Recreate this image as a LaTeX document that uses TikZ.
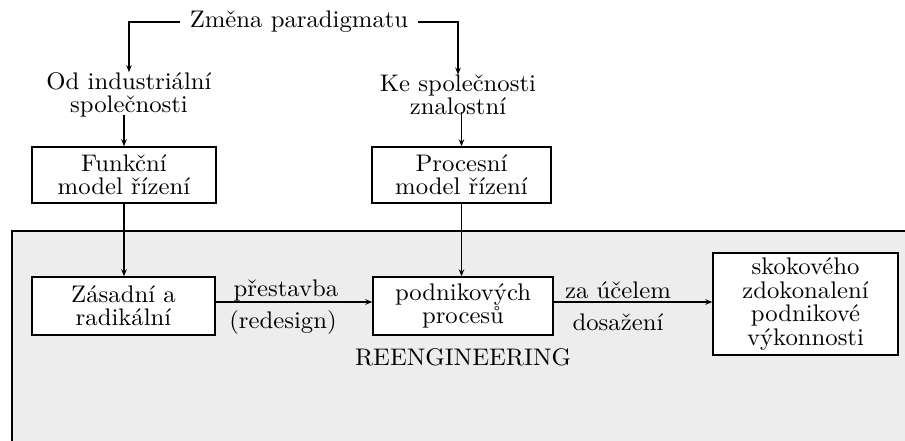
\documentclass[tikz,border=0pt]{standalone}
\usepackage{fontspec}
\setmainfont{lmroman10-regular.otf}[FakeStretch=1.03]
\usetikzlibrary{arrows.meta}
\begin{document}
\begin{tikzpicture}[x=1pt,y=-1pt,
  every node/.style={font=\fontsize{24}{23.5}\selectfont, align=center, inner sep=0pt},
  box/.style={draw, line width=1.4pt, fill=white},
  link/.style={line width=1.2pt},
  arr/.style={link, -{Stealth[length=7pt,width=5.5pt]}},
  frame/.style={draw, line width=1.4pt, fill=black!7},
]
\clip (0,0) rectangle (905,441);
\fill[white] (0,0) rectangle (905,441);

% reengineering area
\draw[frame] (12,231) rectangle (940,480);

% paradigm shift
\node[inner xsep=10pt] (zmena) at (299,22) {Změna paradigmatu};
\node (od) at (129,95) {Od industriální\\společnosti};
\node (ke) at (458,95) {Ke společnosti\\znalostní};

% management models
\node[box, minimum width=184pt, minimum height=56pt] (funk) at (124,175) {Funkční\\model řízení};
\node[box, minimum width=179pt, minimum height=56pt] (proc) at (461.5,175) {Procesní\\model řízení};

% reengineering chain
\node[box, minimum width=183pt, minimum height=58pt] (zas) at (123.5,306) {Zásadní a\\radikální};
\node[box, minimum width=180pt, minimum height=58pt] (podn) at (463,306) {podnikových\\procesů};
\node[box, minimum width=185pt, minimum height=102pt] (skok) at (805.5,304) {skokového\\zdokonalení\\podnikové\\výkonnosti};

\node (pre) at (286,290) {přestavba};
\node (red) at (283,322) {(redesign)};
\node (zau) at (618,290) {za účelem};
\node (dos) at (618,322) {dosažení};
\node (reeng) at (463,357) {REENGINEERING};

% connectors
\draw[arr] (zmena.west) -| (od.north);
\draw[arr] (zmena.east) -| (ke.north);
\draw[arr] (od.south -| funk.north) ++(0,-3) -- (funk.north);
\draw[arr] (ke.south -| proc.north) ++(0,-3) -- (proc.north);
\draw[arr] (funk.south) -- (funk.south |- zas.north);
\draw[arr] (proc.south) -- (proc.south |- podn.north);
\draw[arr] ([yshift=4pt]zas.east) -- ([yshift=4pt]zas.east -| podn.west);
\draw[arr] ([yshift=4pt]podn.east) -- ([yshift=4pt]podn.east -| skok.west);
\end{tikzpicture}
\end{document}
